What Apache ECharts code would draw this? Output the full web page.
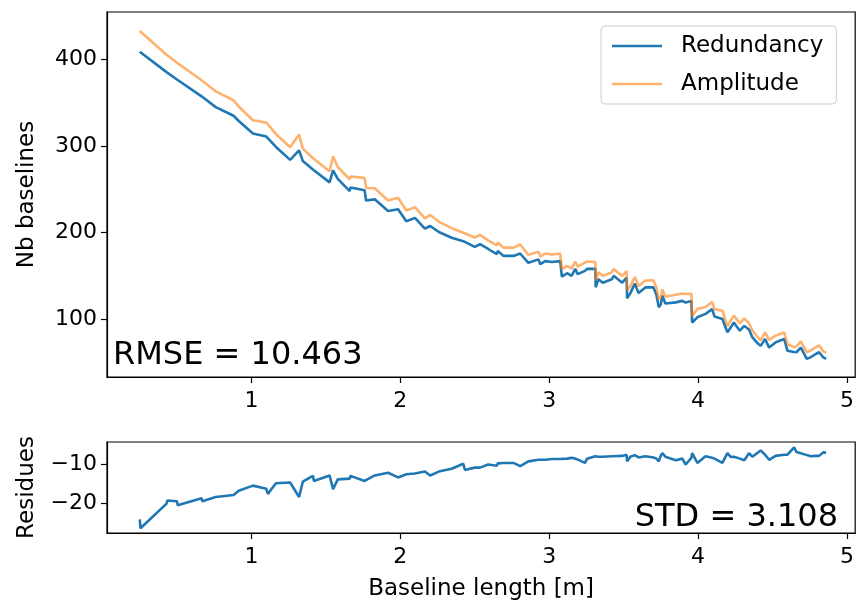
<!DOCTYPE html>
<html>
<head>
<meta charset="utf-8">
<script src="https://cdn.jsdelivr.net/npm/echarts@6/dist/echarts.min.js"></script>
<style>
  html, body { margin: 0; padding: 0; background: #fff; }
  #main { width: 857px; height: 602px; }
</style>
</head>
<body>
<div id="main"></div>
<script>
// baseline length [m]
var baselineLength = [
    0.25, 0.255, 0.43, 0.435, 0.50, 0.505, 0.665, 0.67, 0.76, 0.88,
    0.915, 1.01, 1.10, 1.11, 1.165, 1.26, 1.32, 1.345, 1.413, 1.42,
    1.525, 1.548, 1.58, 1.66, 1.665, 1.76, 1.77, 1.828, 1.918, 1.985,
    2.04, 2.098, 2.165, 2.20, 2.266, 2.345, 2.423, 2.434, 2.50, 2.535,
    2.59, 2.648, 2.655, 2.692, 2.76, 2.805, 2.86, 2.872, 2.928, 2.94,
    2.973, 3.018, 3.074, 3.085, 3.12, 3.15, 3.175, 3.19, 3.24, 3.254,
    3.31, 3.312, 3.33, 3.36, 3.42, 3.433, 3.49, 3.52, 3.523, 3.545,
    3.575, 3.60, 3.646, 3.70, 3.72, 3.736, 3.75, 3.76, 3.78, 3.85,
    3.894, 3.916, 3.955, 3.96, 3.995, 4.05, 4.094, 4.11, 4.163, 4.197,
    4.22, 4.24, 4.253, 4.28, 4.31, 4.342, 4.364, 4.40, 4.42, 4.45,
    4.477, 4.52, 4.578, 4.60, 4.645, 4.66, 4.69, 4.73, 4.757, 4.79,
    4.813, 4.84, 4.86
];
var redundancy = [
    409, 407, 385.5, 386.5, 377, 376, 357.5, 356.5, 345, 335,
    329, 314.5, 311, 309, 299, 284, 295, 282.6, 273, 271,
    258, 272, 262, 248, 252, 249, 237, 238.4, 225, 227,
    213, 217, 204.5, 207.6, 200, 194, 190, 188, 183.5, 186.5,
    181, 175, 178.8, 173, 173, 175.8, 165, 163.4, 169, 163.4,
    167, 166, 167, 149, 153, 150, 158, 152, 155.7, 158,
    158, 136.7, 146, 142, 146, 150, 142, 148, 124, 130,
    141, 130, 136.6, 136.6, 128, 113.5, 117.3, 127, 118, 119.3,
    121, 119, 121, 96, 102, 106, 111.5, 103, 100, 84.7,
    90.4, 96, 94, 86.5, 92, 88, 79, 72, 69, 77,
    67, 73, 77, 63.4, 62, 61.6, 67, 54, 56, 59.6,
    61.6, 55.8, 54
];
var amplitude = [
    433, 433.3, 405.5, 405.7, 396.4, 396.4, 376.1, 375.9, 363.3, 352.8,
    345.7, 329.9, 327.2, 326.5, 313.8, 298.6, 313.3, 297.0, 285.9, 285.2,
    270.8, 288.3, 275.8, 261.6, 264.9, 263.2, 251.6, 251.2, 237.1, 240.3,
    225.5, 229.3, 216.3, 220.4, 211.7, 205.1, 199.8, 199.4, 194.3, 197.3,
    191.0, 185.3, 188.5, 182.6, 182.6, 186.2, 174.2, 172.4, 177.8, 172.2,
    175.8, 174.6, 175.6, 157.6, 161.5, 158.3, 166.5, 160.7, 165.3, 166.5,
    165.9, 144.6, 154.0, 150.0, 153.9, 158.0, 149.8, 155.5, 133.2, 138.0,
    148.6, 138.2, 144.5, 144.8, 136.5, 122.7, 125.0, 134.1, 126.0, 128.2,
    129.5, 129.0, 129.3, 103.1, 111.6, 113.9, 119.8, 111.5, 109.6, 91.8,
    98.5, 104.0, 102.3, 95.0, 100.9, 95.1, 87.0, 79.0, 75.4, 84.5,
    75.8, 80.8, 84.5, 70.9, 67.6, 68.4, 74.1, 61.6, 63.9, 67.4,
    69.4, 62.7, 61.0
];
var residues = [
    -24, -26.3, -20, -19.2, -19.4, -20.4, -18.6, -19.4, -18.3, -17.8,
    -16.7, -15.4, -16.2, -17.5, -14.8, -14.6, -18.3, -14.4, -12.9, -14.2,
    -12.8, -16.3, -13.8, -13.6, -12.9, -14.2, -14.6, -12.8, -12.1, -13.3,
    -12.5, -12.3, -11.8, -12.8, -11.7, -11.1, -9.8, -11.4, -10.8, -10.8,
    -10.0, -10.3, -9.7, -9.6, -9.6, -10.4, -9.2, -9.0, -8.8, -8.8,
    -8.8, -8.6, -8.6, -8.6, -8.5, -8.3, -8.5, -8.7, -9.6, -8.5,
    -7.9, -7.9, -8.0, -8.0, -7.9, -8.0, -7.8, -7.5, -9.2, -8.0,
    -7.6, -8.2, -7.9, -8.2, -8.5, -9.2, -7.7, -7.1, -8.0, -8.9,
    -8.5, -10.0, -8.3, -7.1, -9.6, -7.9, -8.3, -8.5, -9.6, -7.1,
    -8.1, -8.0, -8.3, -8.5, -8.9, -7.1, -8.0, -7.0, -6.4, -7.5,
    -8.8, -7.8, -7.5, -7.5, -5.6, -6.8, -7.1, -7.6, -7.9, -7.8,
    -7.8, -6.9, -7.0
];
var xTicks = [1, 2, 3, 4, 5];
var topTicks = [100, 200, 300, 400];
var bottomTicks = [-20, -10];
var rmseText = 'RMSE = 10.463';
var stdText = 'STD = 3.108';

function pairs(ys) {
    return baselineLength.map(function (x, i) { return [x, ys[i]]; });
}

var FONT = 'DejaVu Sans';
var black = '#000';
// matplotlib writes negative ticks with a real minus sign
function tickText(v) {
    return String(v).replace('-', '\u2212');
}

function xAxis(gridIndex, name) {
    return {
        type: 'value', gridIndex: gridIndex, min: 0.03, max: 5.055,
        name: name || '', nameLocation: 'middle', nameGap: 45,
        nameTextStyle: { fontFamily: FONT, fontSize: 23, color: black },
        axisLine: { show: true, lineStyle: { color: black, width: 1.2 } },
        axisTick: { show: true, customValues: xTicks, length: 6, lineStyle: { color: black, width: 1.2 } },
        axisLabel: { customValues: xTicks, margin: 13, fontFamily: FONT, fontSize: 22, color: black },
        splitLine: { show: false }
    };
}
function yAxis(gridIndex, min, max, ticks, name) {
    return {
        type: 'value', gridIndex: gridIndex, min: min, max: max,
        name: name, nameLocation: 'middle', nameGap: 68,
        nameTextStyle: { fontFamily: FONT, fontSize: 23, color: black },
        axisLine: { show: true, lineStyle: { color: black, width: 1.2 } },
        axisTick: { show: true, customValues: ticks, length: 6, lineStyle: { color: black, width: 1.2 } },
        axisLabel: { customValues: ticks, margin: 10, fontFamily: FONT, fontSize: 22, color: black, formatter: tickText },
        splitLine: { show: false }
    };
}

var chart = echarts.init(document.getElementById('main'));
var option = {
    backgroundColor: '#fff',
    animation: false,
    grid: [
        { left: 107, top: 12, width: 749, height: 365, show: true, borderColor: black, borderWidth: 1.2 },
        { left: 107, top: 442, width: 749, height: 93, show: true, borderColor: black, borderWidth: 1.2 }
    ],
    xAxis: [xAxis(0), xAxis(1, 'Baseline length [m]')],
    yAxis: [
        yAxis(0, 33, 455, topTicks, 'Nb baselines'),
        yAxis(1, -27.5, -4.25, bottomTicks, 'Residues')
    ],
    legend: {
        data: ['Redundancy', 'Amplitude'],
        orient: 'vertical',
        left: 601, top: 26,
        padding: [8, 13, 8, 11],
        itemGap: 14,
        itemWidth: 50, itemHeight: 2.6,
        icon: 'rect',
        backgroundColor: '#fff',
        borderColor: '#cccccc', borderWidth: 1, borderRadius: 4,
        textStyle: { fontFamily: FONT, fontSize: 23, color: black, lineHeight: 24, padding: [0, 0, 0, 14] }
    },
    graphic: [
        { type: 'text', left: 113, top: 340, z: 10,
          style: { text: rmseText, font: '32px "DejaVu Sans"', fill: black } },
        { type: 'text', right: 19, top: 502, z: 10,
          style: { text: stdText, font: '32px "DejaVu Sans"', fill: black } }
    ],
    series: [
        { name: 'Redundancy', type: 'line', xAxisIndex: 0, yAxisIndex: 0, symbol: 'none',
          color: '#1f77b4', lineStyle: { width: 2.6, color: '#1f77b4' }, data: pairs(redundancy) },
        { name: 'Amplitude', type: 'line', xAxisIndex: 0, yAxisIndex: 0, symbol: 'none',
          color: 'rgba(255,127,14,0.6)', lineStyle: { width: 2.6, color: 'rgba(255,127,14,0.6)' }, data: pairs(amplitude) },
        { name: 'Residues', type: 'line', xAxisIndex: 1, yAxisIndex: 1, symbol: 'none',
          color: '#1f77b4', lineStyle: { width: 2.6, color: '#1f77b4' }, data: pairs(residues) }
    ]
};
chart.setOption(option);
</script>
</body>
</html>
